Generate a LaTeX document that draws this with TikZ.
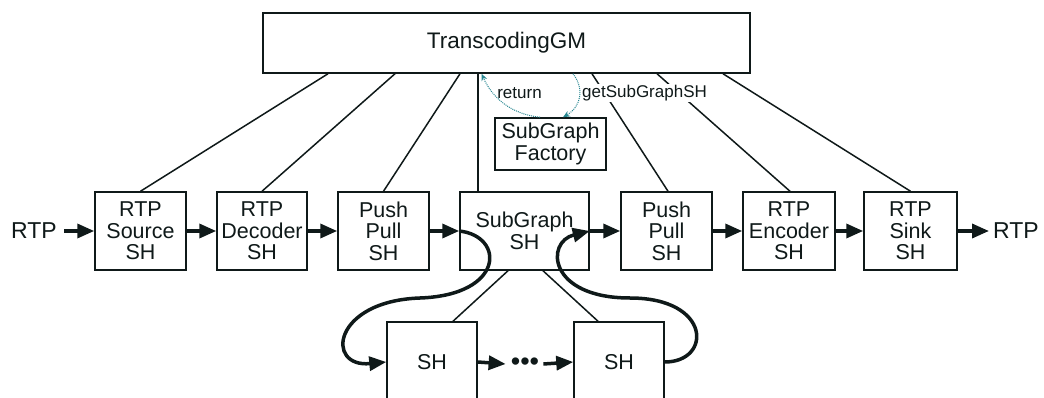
\documentclass[tikz,border=0pt]{standalone}
\usepackage{fontspec}
\setmainfont{Liberation Sans}
\usetikzlibrary{arrows.meta}
\definecolor{ink}{RGB}{15,25,25}
\definecolor{dotc}{RGB}{40,135,145}
\begin{document}
\begin{tikzpicture}[x=1pt,y=-1pt,
  box/.style={draw=ink,line width=1.5pt,fill=white,text=ink,align=center,inner sep=0pt,font=\fontsize{21.5}{21.5}\selectfont},
  row/.style={box,minimum width=91pt,minimum height=78pt},
  flow/.style={draw=ink,line width=3.5pt,-{Triangle[length=17pt,width=14pt]}},
  link/.style={draw=ink,line width=1.5pt},
  call/.style={draw=dotc,line width=1pt,dash pattern=on 1pt off 1pt,-{Stealth[length=7pt,width=6pt]}},
  lbl/.style={text=ink,fill=white,inner sep=1pt,font=\fontsize{17}{17}\selectfont},
  ext/.style={text=ink,inner sep=0pt,font=\fontsize{23}{23}\selectfont}]
\useasboundingbox (0,0) rectangle (1044,398);

\node[box,minimum width=487pt,minimum height=60pt,font=\fontsize{22.5}{22.5}\selectfont] (tgm) at (506.5,43) {TranscodingGM};
\node[row] (src) at (140.5,231) {RTP\\Source\\SH};
\node[row,minimum width=90pt] (dec) at (262,231) {RTP\\Decoder\\SH};
\node[row] (pp1) at (383.5,231) {Push\\Pull\\SH};
\node[row,minimum width=129pt] (sg) at (524.5,231) {SubGraph\\SH};
\node[row] (pp2) at (666.5,231) {Push\\Pull\\SH};
\node[row,minimum width=92pt] (enc) at (789,231) {RTP\\Encoder\\SH};
\node[row,minimum width=93pt] (snk) at (910.5,231) {RTP\\Sink\\SH};
\node[box,minimum width=111pt,minimum height=52pt] (fac) at (550.5,144) {SubGraph\\Factory};
\node[box,minimum width=90pt,minimum height=80pt] (sh1) at (432,362) {SH};
\node[box,minimum width=90pt,minimum height=80pt] (sh2) at (619,362) {SH};
\node[text=ink,inner sep=0pt,font=\fontsize{27}{27}\selectfont] (dots) at (525,364) {•••};
\node[ext,anchor=east] (rin) at (57,231) {RTP};
\node[ext,anchor=west] (rout) at (993,231) {RTP};

% links from the manager
\draw[link] ([xshift=-178.5pt]tgm.south) -- (src.north);
\draw[link] ([xshift=-111.5pt]tgm.south) -- (dec.north);
\draw[link] ([xshift=-46.5pt]tgm.south) -- (pp1.north);
\draw[link] ([xshift=-46.5pt]sg.north) -- ([xshift=-46.5pt]sg.north |- tgm.south);
\draw[link] ([xshift=85.5pt]tgm.south) -- ([xshift=1.5pt]pp2.north);
\draw[link] ([xshift=150.5pt]tgm.south) -- ([xshift=1pt]enc.north);
\draw[link] ([xshift=216.5pt]tgm.south) -- (snk.north);
\draw[link] ([xshift=-16.5pt]sg.south) -- ([xshift=21pt]sh1.north);
\draw[link] ([xshift=18.5pt]sg.south) -- ([xshift=-21pt]sh2.north);

% labels
\node[lbl] (ret) at (519.5,93) {return};
\node[lbl] (get) at (644.5,93) {getSubGraphSH};

% calls
\draw[call] ([xshift=-10.5pt]fac.north) .. controls (510,114) and (492,97) .. ([xshift=-25pt]tgm.south);
\draw[call] ([xshift=66.5pt]tgm.south) .. controls (584,88) and (582,106) .. ([xshift=12.5pt]fac.north);

% data flow
\draw[flow] ([xshift=7pt]rin.east) -- (src.west);
\draw[flow] (src.east) -- (dec.west);
\draw[flow] (dec.east) -- (pp1.west);
\draw[flow] (pp1.east) -- (sg.west);
\draw[flow] (sg.east) -- (pp2.west);
\draw[flow] (pp2.east) -- (enc.west);
\draw[flow] (enc.east) -- (snk.west);
\draw[flow] (snk.east) -- ([xshift=-4pt]rout.west);
\draw[flow] (sh1.east) -- ([xshift=-5pt]dots.west);
\draw[flow] ([xshift=4pt]dots.east) -- (sh2.west);
\draw[flow] (sg.west) .. controls (505,236) and (505,295) .. (420,298) .. controls (332,301) and (325,368) .. (sh1.west);
\draw[flow] (sh2.east) .. controls (712,362) and (712,298) .. (630,298) .. controls (548,298) and (545,242) .. (sg.east);
\end{tikzpicture}
\end{document}
